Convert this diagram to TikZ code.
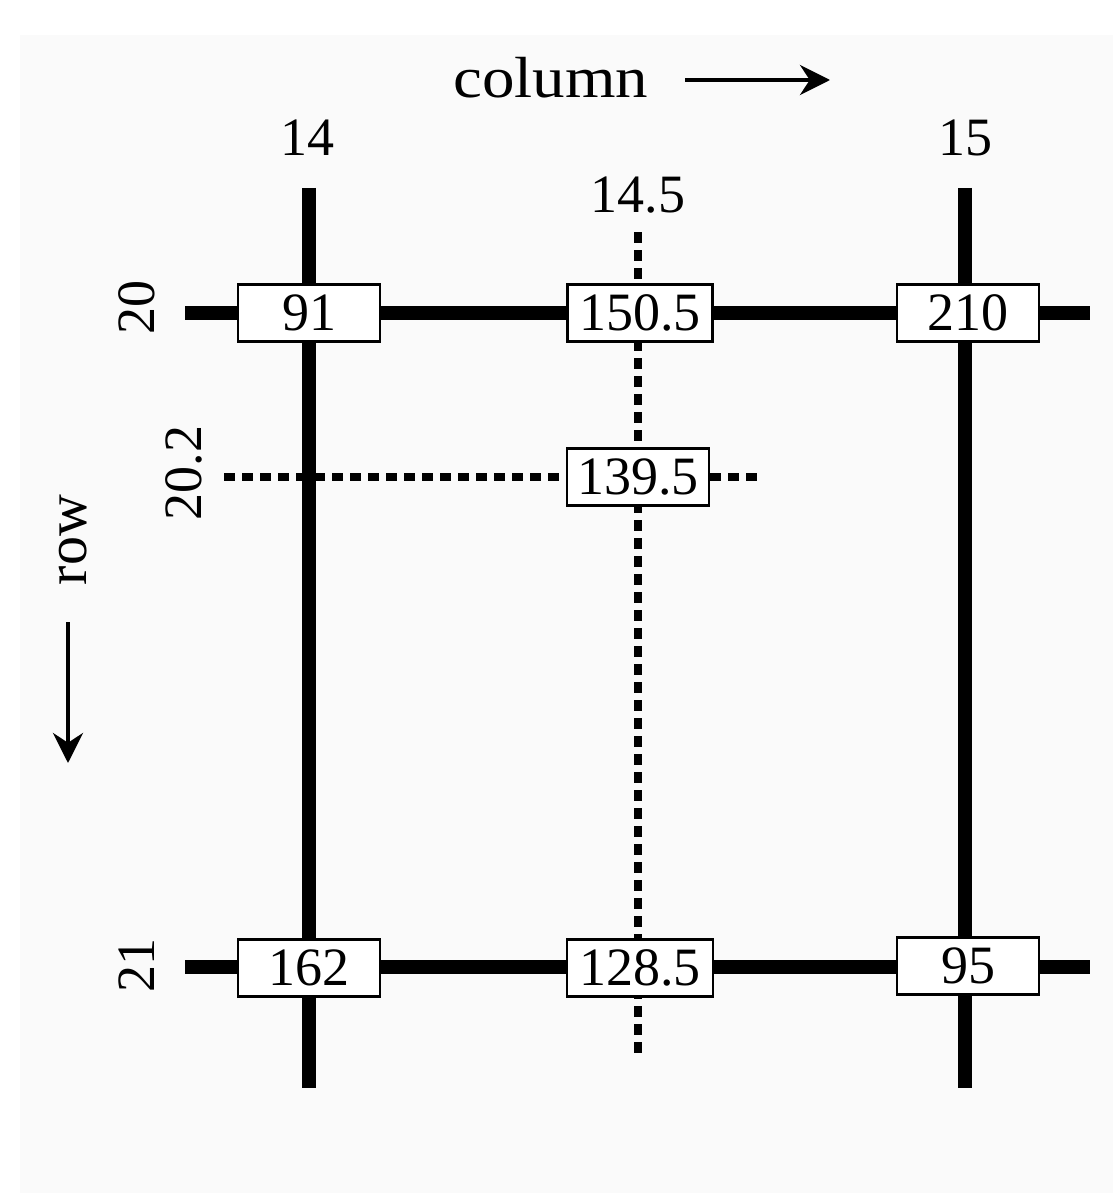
\documentclass[tikz,border=0pt]{standalone}
\usepackage{fontspec}
\setmainfont{Liberation Serif}
\usetikzlibrary{arrows.meta}
\begin{document}
\begin{tikzpicture}[x=1pt,y=-1pt,
  gridline/.style={line width=14pt},
  dotline/.style={line width=8pt,dash pattern=on 11pt off 7pt},
  valbox/.style={draw,line width=2.5pt,fill=white,minimum width=142pt,minimum height=57pt,inner sep=0pt,font=\fontsize{54}{60}\selectfont},
  lbl/.style={inner sep=0pt,font=\fontsize{54}{60}\selectfont},
  dirarrow/.style={line width=4pt,-{Stealth[length=30pt,width=30pt]}}]
\useasboundingbox (0,0) rectangle (1113,1193);
\fill[white] (0,0) rectangle (1113,1193);
\fill[black!2] (20,35) rectangle (1113,1193);
% grid coordinates
\coordinate (v1t) at (309,188); \coordinate (v1b) at (309,1088);
\coordinate (v2t) at (965,188); \coordinate (v2b) at (965,1088);
\coordinate (h1l) at (185,313); \coordinate (h1r) at (1090,313);
\coordinate (h2l) at (185,967); \coordinate (h2r) at (1090,967);
\coordinate (dvt) at (638,232); \coordinate (dvb) at (638,1053);
\coordinate (dhl) at (224,477); \coordinate (dhr) at (762,477);
\draw[gridline] (v1t) -- (v1b);
\draw[gridline] (v2t) -- (v2b);
\draw[gridline] (h1l) -- (h1r);
\draw[gridline] (h2l) -- (h2r);
\draw[dotline] (dvt) -- (dvb);
\draw[dotline] (dhl) -- (dhr);
% value boxes
\node[valbox] (b91) at (309,313) {91};
\node[valbox,minimum width=145pt] (b150) at (640,313) {150.5};
\node[valbox] (b210) at (968,313) {210};
\node[valbox] (b139) at (638,477) {139.5};
\node[valbox] (b162) at (309,968) {162};
\node[valbox,minimum width=146pt] (b128) at (640,968) {128.5};
\node[valbox] (b95) at (968,966) {95};
% labels
\node[lbl] (c14) at (307,138) {14};
\node[lbl] (c15) at (965,138) {15};
\node[lbl] (c145) at (638,195) {14.5};
\node[lbl,font=\fontsize{58}{64}\selectfont,xscale=1.12] (col) at (551,78) {column};
\coordinate (ca1) at (685,80); \coordinate (ca2) at (830,80);
\draw[dirarrow] (ca1) -- (ca2);
\node[lbl,rotate=90] (r20) at (137,307) {20};
\node[lbl,rotate=90] (r21) at (137,965) {21};
\node[lbl,rotate=90] (r202) at (184,473) {20.2};
\node[lbl,rotate=90,font=\fontsize{58}{64}\selectfont] (row) at (73,540) {row};
\coordinate (ra1) at (68,622); \coordinate (ra2) at (68,763);
\draw[dirarrow] (ra1) -- (ra2);
\end{tikzpicture}
\end{document}
